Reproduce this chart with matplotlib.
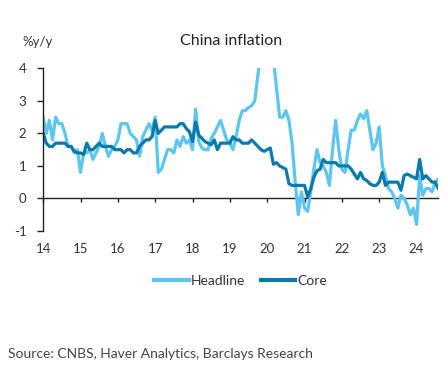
import numpy as np
import matplotlib
matplotlib.use("Agg")
import matplotlib.pyplot as plt

# monthly series, Jan 2014 .. Aug 2024, %y/y
start_year = 2014
headline = [
    2.5, 2.0, 2.4, 1.8, 2.5, 2.3, 2.3, 2.0, 1.6, 1.6, 1.4, 1.5,      # 2014
    0.8, 1.4, 1.4, 1.5, 1.2, 1.4, 1.6, 2.0, 1.6, 1.3, 1.5, 1.6,      # 2015
    1.8, 2.3, 2.3, 2.3, 2.0, 1.9, 1.8, 1.3, 1.9, 2.1, 2.3, 2.1,      # 2016
    2.5, 0.8, 0.9, 1.2, 1.5, 1.5, 1.4, 1.8, 1.6, 1.9, 1.7, 1.8,      # 2017
    1.5, 2.75, 1.75, 1.55, 1.5, 1.5, 1.85, 2.0, 2.2, 2.4, 2.1, 1.8,  # 2018
    1.7, 1.5, 1.9, 2.4, 2.7, 2.7, 2.8, 2.85, 3.0, 3.8, 4.5, 4.5,     # 2019
    5.4, 5.2, 4.3, 3.4, 2.5, 2.5, 2.7, 2.4, 1.7, 0.5, -0.5, 0.2,     # 2020
    -0.3, -0.4, 0.2, 0.9, 1.5, 1.1, 1.0, 0.8, 0.4, 1.5, 2.4, 1.5,    # 2021
    0.9, 0.8, 1.5, 2.1, 2.1, 2.4, 2.6, 2.45, 2.7, 2.1, 1.5, 1.7,     # 2022
    2.2, 1.0, 0.7, 0.3, 0.2, 0.0, -0.3, 0.1, 0.0, -0.2, -0.5, -0.3,  # 2023
    -0.8, 0.7, 0.1, 0.3, 0.3, 0.2, 0.5, 0.6,                         # 2024
]
core = [
    2.0, 1.7, 1.6, 1.6, 1.7, 1.7, 1.7, 1.7, 1.6, 1.6, 1.45, 1.4,     # 2014
    1.4, 1.35, 1.7, 1.5, 1.5, 1.6, 1.7, 1.6, 1.6, 1.6, 1.6, 1.5,     # 2015
    1.5, 1.5, 1.4, 1.5, 1.5, 1.4, 1.4, 1.6, 1.7, 1.8, 1.8, 1.9,      # 2016
    2.4, 2.0, 2.1, 2.2, 2.2, 2.2, 2.2, 2.2, 2.3, 2.3, 2.15, 2.05,    # 2017
    1.75, 2.35, 1.95, 1.85, 1.75, 1.7, 1.65, 1.8, 1.5, 1.7, 1.7, 1.7,  # 2018
    1.7, 1.9, 1.8, 1.8, 1.7, 1.7, 1.7, 1.8, 1.7, 1.6, 1.5, 1.45,     # 2019
    1.5, 1.55, 1.05, 1.1, 1.0, 0.95, 0.9, 0.45, 0.4, 0.4, 0.4, 0.4,  # 2020
    0.4, 0.05, 0.3, 0.65, 0.85, 0.9, 1.2, 1.1, 1.1, 1.1, 1.1, 1.0,   # 2021
    1.0, 1.0, 1.0, 0.9, 0.75, 0.6, 0.8, 0.6, 0.55, 0.45, 0.4, 0.4,   # 2022
    0.5, 0.8, 0.4, 0.5, 0.5, 0.5, 0.5, 0.25, 0.7, 0.75, 0.7, 0.65,   # 2023
    0.6, 1.2, 0.6, 0.7, 0.6, 0.5, 0.5, 0.3,                          # 2024
]
year_ticks = list(range(2014, 2025))
year_labels = [str(y)[2:] for y in year_ticks]
y_ticks = [-1, 0, 1, 2, 3, 4]

LIGHT = "#5cc6ef"
DARK = "#0a7aae"

plt.rcParams["font.family"] = ["Lato", "DejaVu Sans"]

dates = start_year + np.arange(len(headline)) / 12

fig = plt.figure(figsize=(4.45, 3.7), dpi=100)
ax = fig.add_axes([0.097, 0.376, 0.888, 0.439])

ax.plot(dates, headline, color=LIGHT, lw=2.3, label="Headline")
ax.plot(dates, core, color=DARK, lw=2.3, label="Core")

ax.set_xlim(dates[0], dates[-1])
ax.set_ylim(-1, 4)
ax.set_yticks(y_ticks)
ax.set_yticklabels([str(v) for v in y_ticks])
ax.set_xticks(year_ticks)
ax.set_xticklabels(year_labels)

for side in ["top", "right", "bottom"]:
    ax.spines[side].set_visible(False)
ax.spines["left"].set_color("#222222")
ax.spines["left"].set_linewidth(1.0)

ax.tick_params(axis="y", direction="out", length=4, width=1.0,
               color="#222222", labelsize=9.5, labelcolor="#333333", pad=8)
ax.tick_params(axis="x", length=0, labelsize=9.5, labelcolor="#333333", pad=9)

# zero line with its own year tick marks
zero = ax.secondary_xaxis(1 / 5)
zero.set_xticks(year_ticks)
zero.set_xticklabels([])
zero.tick_params(direction="out", length=3, width=1.0, color="#222222")
zero.spines["bottom"].set_color("#222222")
zero.spines["bottom"].set_linewidth(1.0)

fig.text(0.52, 0.89, "China inflation", ha="center", va="center",
         fontsize=11.5, color="#222222")
fig.text(0.05, 0.887, "%y/y", ha="left", va="center",
         fontsize=9.5, color="#333333")

leg = ax.legend(loc="center", bbox_to_anchor=(0.5, -0.31), ncol=2, frameon=False,
                fontsize=10, handlelength=2.5, handletextpad=0.15,
                columnspacing=1.1, labelcolor="#333333")
for line in leg.get_lines():
    line.set_linewidth(3.0)

fig.text(0.018, 0.043, "Source: CNBS, Haver Analytics, Barclays Research",
         ha="left", va="center", fontsize=10, color="#444444")

fig.savefig("out.png", dpi=100)
